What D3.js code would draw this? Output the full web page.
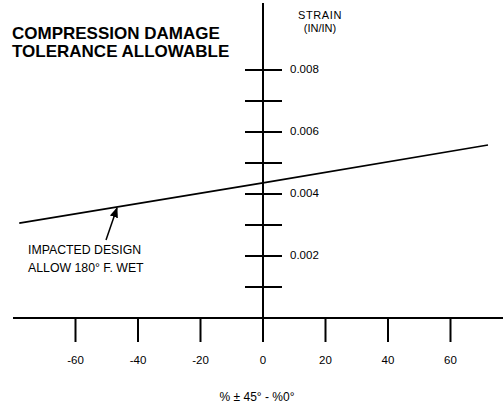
<!DOCTYPE html>
<html>
<head>
<meta charset="utf-8">
<script src="https://cdn.jsdelivr.net/npm/d3@7"></script>
<style>
  body { margin: 0; background: #fff; }
  svg { display: block; font-family: "Liberation Sans", Arial, sans-serif; }
</style>
</head>
<body>
<div id="chart"></div>
<script>
const xTicks = [-60, -40, -20, 0, 20, 40, 60];
const yTicks = [0.001, 0.002, 0.003, 0.004, 0.005, 0.006, 0.007, 0.008];
const yLabels = [0.002, 0.004, 0.006, 0.008];
const lineX = [-78, 0, 72];
const lineY = [0.00306, 0.00436, 0.00558];

const width = 503, height = 407;

const svg = d3.select("#chart").append("svg")
  .attr("width", width).attr("height", height);

const x = d3.scaleLinear().domain([-80, 80]).range([13, 513]);
const y = d3.scaleLinear().domain([0, 0.01]).range([318, 8]);

// x axis
svg.append("line")
  .attr("x1", 13).attr("x2", width)
  .attr("y1", y(0)).attr("y2", y(0))
  .attr("stroke", "#000").attr("stroke-width", 2);

svg.selectAll(".xtick").data(xTicks).join("line")
  .attr("class", "xtick")
  .attr("x1", (d) => x(d)).attr("x2", (d) => x(d))
  .attr("y1", y(0)).attr("y2", y(0) + 24)
  .attr("stroke", "#000").attr("stroke-width", 2);

svg.selectAll(".xlab").data(xTicks).join("text")
  .attr("class", "xlab")
  .attr("x", (d) => x(d)).attr("y", y(0) + 46)
  .attr("text-anchor", "middle")
  .attr("font-size", 11.5)
  .text((d) => (d < 0 ? "-" + Math.abs(d) : d));

// y axis
svg.append("line")
  .attr("x1", x(0)).attr("x2", x(0))
  .attr("y1", 3).attr("y2", y(0))
  .attr("stroke", "#000").attr("stroke-width", 2);

svg.selectAll(".ytick").data(yTicks).join("line")
  .attr("class", "ytick")
  .attr("x1", x(0) - 18).attr("x2", x(0) + 19)
  .attr("y1", (d) => y(d)).attr("y2", (d) => y(d))
  .attr("stroke", "#000").attr("stroke-width", 2);

svg.selectAll(".ylab").data(yLabels).join("text")
  .attr("class", "ylab")
  .attr("x", x(0) + 27).attr("y", (d) => y(d))
  .attr("dominant-baseline", "middle")
  .attr("font-size", 11.5)
  .text((d) => d.toFixed(3));

svg.append("text")
  .attr("x", 320).attr("y", 19)
  .attr("text-anchor", "middle")
  .attr("font-size", 11)
  .attr("letter-spacing", 0.6)
  .text("STRAIN");

svg.append("text")
  .attr("x", 320).attr("y", 32)
  .attr("text-anchor", "middle")
  .attr("font-size", 11)
  .text("(IN/IN)");

// data line
svg.append("path")
  .datum(lineX.map((d, i) => [d, lineY[i]]))
  .attr("fill", "none")
  .attr("stroke", "#000")
  .attr("stroke-width", 1.6)
  .attr("d", d3.line().x((d) => x(d[0])).y((d) => y(d[1])));

// title
svg.append("text")
  .attr("x", 12).attr("y", 39)
  .attr("font-size", 17).attr("font-weight", "bold")
  .text("COMPRESSION DAMAGE");
svg.append("text")
  .attr("x", 12).attr("y", 57)
  .attr("font-size", 17).attr("font-weight", "bold")
  .text("TOLERANCE ALLOWABLE");

// annotation
svg.append("defs").append("marker")
  .attr("id", "arr")
  .attr("viewBox", "0 0 10 10")
  .attr("refX", 9).attr("refY", 5)
  .attr("markerWidth", 7).attr("markerHeight", 7)
  .attr("orient", "auto")
  .append("path").attr("d", "M0,1 L10,5 L0,9 Z").attr("fill", "#000");

svg.append("line")
  .attr("x1", 106).attr("y1", 240)
  .attr("x2", 117).attr("y2", 208)
  .attr("stroke", "#000").attr("stroke-width", 1.5)
  .attr("marker-end", "url(#arr)");

svg.append("text")
  .attr("x", 28).attr("y", 254)
  .attr("font-size", 12.3)
  .text("IMPACTED DESIGN");
svg.append("text")
  .attr("x", 28).attr("y", 272)
  .attr("font-size", 12.3)
  .text("ALLOW 180° F. WET");

svg.append("text")
  .attr("x", 257).attr("y", 401)
  .attr("text-anchor", "middle")
  .attr("font-size", 12)
  .text("% ± 45° - %0°");
</script>
</body>
</html>
